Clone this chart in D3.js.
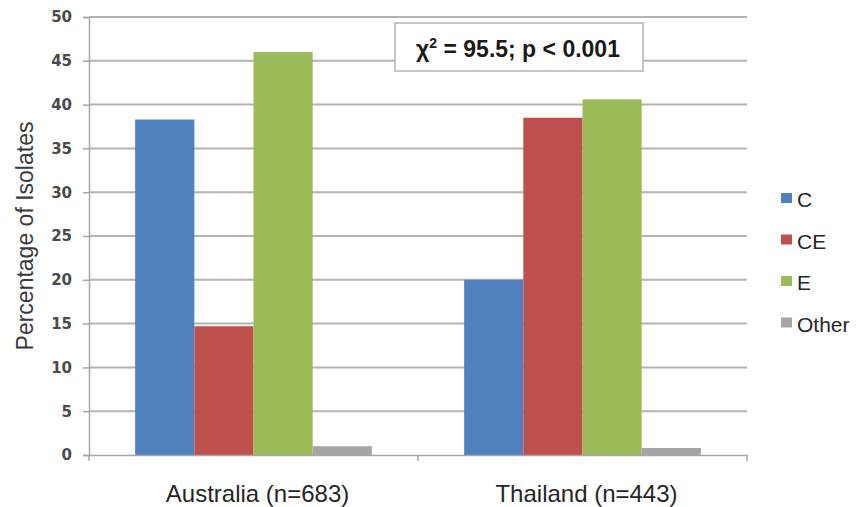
<!DOCTYPE html>
<html lang="en">
<head>
  <meta charset="UTF-8">
  <title>Percentage of Isolates</title>
  <script src="https://d3js.org/d3.v7.min.js"></script>
  <style>
    body {
      margin: 0;
      padding: 0;
      background-color: white;
      font-family: "Liberation Sans", Arial, sans-serif;
    }
    .grid line {
      stroke: #b3b3b3;
      stroke-width: 2;
    }
  </style>
</head>
<body>
  <div id="chart"></div>

  <script>
    const countries = ["Australia (n=683)", "Thailand (n=443)"];
    const types = ["C", "CE", "E", "Other"];
    const colors = ["#4f81bd", "#c0504d", "#9bbb59", "#a5a5a5"];
    const valuesC = [38.3, 20.0];
    const valuesCE = [14.7, 38.5];
    const valuesE = [46.0, 40.6];
    const valuesOther = [1.0, 0.8];
    const yTicks = [0, 5, 10, 15, 20, 25, 30, 35, 40, 45, 50];

    const seriesValues = [valuesC, valuesCE, valuesE, valuesOther];

    const width = 860;
    const height = 507;
    const margin = { top: 17, right: 113, bottom: 52, left: 89 };

    const svg = d3.select("#chart")
      .append("svg")
      .attr("width", width)
      .attr("height", height);

    const x0 = d3.scaleBand()
      .domain(countries)
      .range([margin.left, width - margin.right])
      .paddingInner(0)
      .paddingOuter(0);

    const x1 = d3.scaleBand()
      .domain(types)
      .range([0, x0.bandwidth()])
      .paddingOuter(0.78)
      .paddingInner(0);

    const y = d3.scaleLinear()
      .domain([0, 50])
      .range([height - margin.bottom, margin.top]);

    // gridlines
    svg.append("g")
      .attr("class", "grid")
      .selectAll("line")
      .data(yTicks.filter(d => d > 0))
      .enter()
      .append("line")
      .attr("x1", margin.left)
      .attr("x2", width - margin.right)
      .attr("y1", d => y(d))
      .attr("y2", d => y(d));

    // bars
    const groups = svg.append("g")
      .selectAll("g")
      .data(countries)
      .enter()
      .append("g")
      .attr("transform", d => `translate(${x0(d)},0)`);

    groups.selectAll("rect")
      .data((c, i) => types.map((t, j) => ({ type: t, value: seriesValues[j][i], color: colors[j] })))
      .enter()
      .append("rect")
      .attr("x", d => x1(d.type))
      .attr("y", d => y(d.value))
      .attr("width", x1.bandwidth())
      .attr("height", d => y(0) - y(d.value))
      .attr("fill", d => d.color);

    // y axis
    const yAxis = svg.append("g")
      .attr("transform", `translate(${margin.left},0)`)
      .call(d3.axisLeft(y).tickValues(yTicks).tickSize(6).tickPadding(11));
    yAxis.select(".domain").attr("stroke", "#a6a6a6").attr("stroke-width", 1.5);
    yAxis.selectAll(".tick line").attr("stroke", "#a6a6a6").attr("stroke-width", 1.5);
    yAxis.selectAll(".tick text")
      .style("font-family", "'DejaVu Sans', sans-serif")
      .style("font-size", "15px")
      .style("font-weight", "bold")
      .attr("fill", "#4a4a4a");

    // x axis
    const xAxis = svg.append("g")
      .attr("transform", `translate(0,${y(0)})`)
      .call(d3.axisBottom(x0).tickSize(0).tickFormat(""));
    xAxis.select(".domain").attr("stroke", "#a6a6a6").attr("stroke-width", 1.5);

    const dividers = [margin.left, ...countries.map(c => x0(c) + x0.bandwidth())];
    svg.append("g")
      .selectAll("line")
      .data(dividers)
      .enter()
      .append("line")
      .attr("x1", d => d)
      .attr("x2", d => d)
      .attr("y1", y(0))
      .attr("y2", y(0) + 6)
      .attr("stroke", "#a6a6a6")
      .attr("stroke-width", 1.5);

    svg.append("g")
      .selectAll("text")
      .data(countries)
      .enter()
      .append("text")
      .attr("x", d => x0(d) + x0.bandwidth() / 2 + 4)
      .attr("y", 502)
      .attr("text-anchor", "middle")
      .style("font-size", "24px")
      .attr("fill", "#262626")
      .text(d => d);

    // y title
    svg.append("text")
      .attr("transform", `translate(33,${(y(0) + y(50)) / 2}) rotate(-90)`)
      .attr("text-anchor", "middle")
      .style("font-size", "23px")
      .attr("fill", "#3a3a3a")
      .text("Percentage of Isolates");

    // annotation box
    svg.append("rect")
      .attr("x", 395)
      .attr("y", 23)
      .attr("width", 248)
      .attr("height", 48)
      .attr("fill", "white")
      .attr("stroke", "#b3b3b3")
      .attr("stroke-width", 1.5);

    const note = svg.append("text")
      .attr("x", 518)
      .attr("y", 57)
      .attr("text-anchor", "middle")
      .style("font-size", "23px")
      .style("font-weight", "bold")
      .attr("fill", "#1a1a1a");
    note.append("tspan").text("χ");
    note.append("tspan").attr("dy", -9).style("font-size", "14px").text("2");
    note.append("tspan").attr("dy", 9).text(" = 95.5; p < 0.001");

    // legend
    const legend = svg.append("g")
      .selectAll("g")
      .data(types)
      .enter()
      .append("g")
      .attr("transform", (d, i) => `translate(781,${199 + i * 41.5})`);

    legend.append("rect")
      .attr("x", 0)
      .attr("y", -6)
      .attr("width", 11)
      .attr("height", 10)
      .attr("fill", (d, i) => colors[i]);

    legend.append("text")
      .attr("x", 16)
      .attr("y", 8)
      .style("font-size", "21px")
      .attr("fill", "#262626")
      .text(d => d);
  </script>
</body>
</html>
